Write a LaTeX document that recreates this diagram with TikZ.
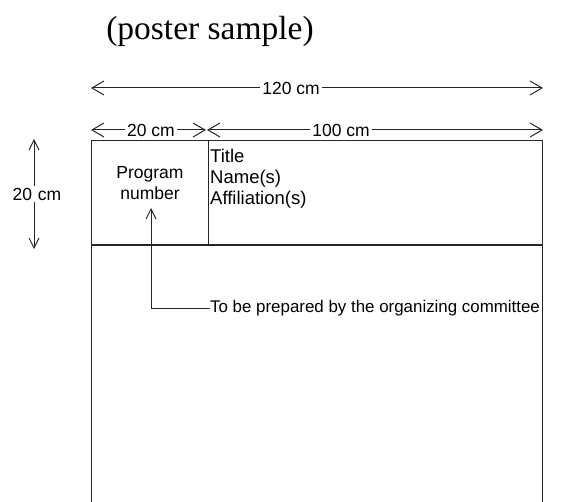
\documentclass[tikz,border=0pt]{standalone}
\usepackage{fontspec}
\setmainfont{Liberation Sans}
\newfontfamily\titlefont{Liberation Serif}
\usetikzlibrary{arrows.meta}
\tikzset{
  x=1pt, y=-1pt,
  line/.style={line width=1pt, black!85},
  dimarrow/.style={line, {Straight Barb[length=12pt,width=14pt]}-{Straight Barb[length=12pt,width=14pt]}},
  vdimarrow/.style={line, {Straight Barb[length=10pt,width=10pt]}-{Straight Barb[length=10pt,width=10pt]}},
  dimlabel/.style={fill=white, inner sep=2pt, font=\fontsize{17.5}{19}\selectfont},
  celltext/.style={inner sep=0pt, font=\fontsize{17.5}{20.5}\selectfont, align=center},
  headtext/.style={inner sep=0pt, font=\fontsize{18.5}{21}\selectfont, align=left, anchor=north west},
  notetext/.style={inner sep=0pt, font=\fontsize{16.9}{19}\selectfont, anchor=west},
  pointer/.style={line, -{Straight Barb[length=10pt,width=10pt]}}
}
\begin{document}
\begin{tikzpicture}
\useasboundingbox (0,0) rectangle (585,502);
% title
\node[font=\titlefont\fontsize{33.5}{36}\selectfont, inner sep=0pt] (title) at (210,31) {(poster sample)};
% poster outline (open at bottom)
\coordinate (pbl) at (91,502);
\coordinate (ptl) at (91,141);
\coordinate (ptr) at (542,141);
\coordinate (pbr) at (542,502);
\coordinate (hl) at (91,245);
\coordinate (hr) at (542,245);
\coordinate (dtop) at (208,141);
\coordinate (dbot) at (208,245);
\draw[line] (pbl) -- (ptl) -- (ptr) -- (pbr);
\draw[line] (hl) -- (hr);
\draw[line] (dtop) -- (dbot);
% dimension arrows
\coordinate (a120l) at (91,88);
\coordinate (a120r) at (543,88);
\draw[dimarrow] (a120l) -- (a120r);
\node[dimlabel] (l120) at (291,88) {120 cm};
\coordinate (a20l) at (91,130);
\coordinate (a20r) at (206,130);
\draw[dimarrow] (a20l) -- (a20r);
\node[dimlabel] (l20) at (151,130) {20 cm};
\coordinate (a100l) at (207,130);
\coordinate (a100r) at (543,130);
\draw[dimarrow] (a100l) -- (a100r);
\node[dimlabel] (l100) at (341,130) {100 cm};
\coordinate (v20t) at (34,139);
\coordinate (v20b) at (34,249);
\draw[vdimarrow] (v20t) -- (v20b);
\node[dimlabel, inner xsep=0pt] (lv20) at (37,194) {20\,\,cm};
% cell texts
\node[celltext] (prog) at (150,183) {Program\\number};
\node[headtext] (head) at (210,149) {Title\\Name(s)\\Affiliation(s)};
% note and pointer
\node[notetext] (note) at (210,308) {To be prepared by the organizing committee};
\coordinate (ptip) at (151,208);
\draw[pointer] (note.west) -| (ptip);
\end{tikzpicture}
\end{document}
